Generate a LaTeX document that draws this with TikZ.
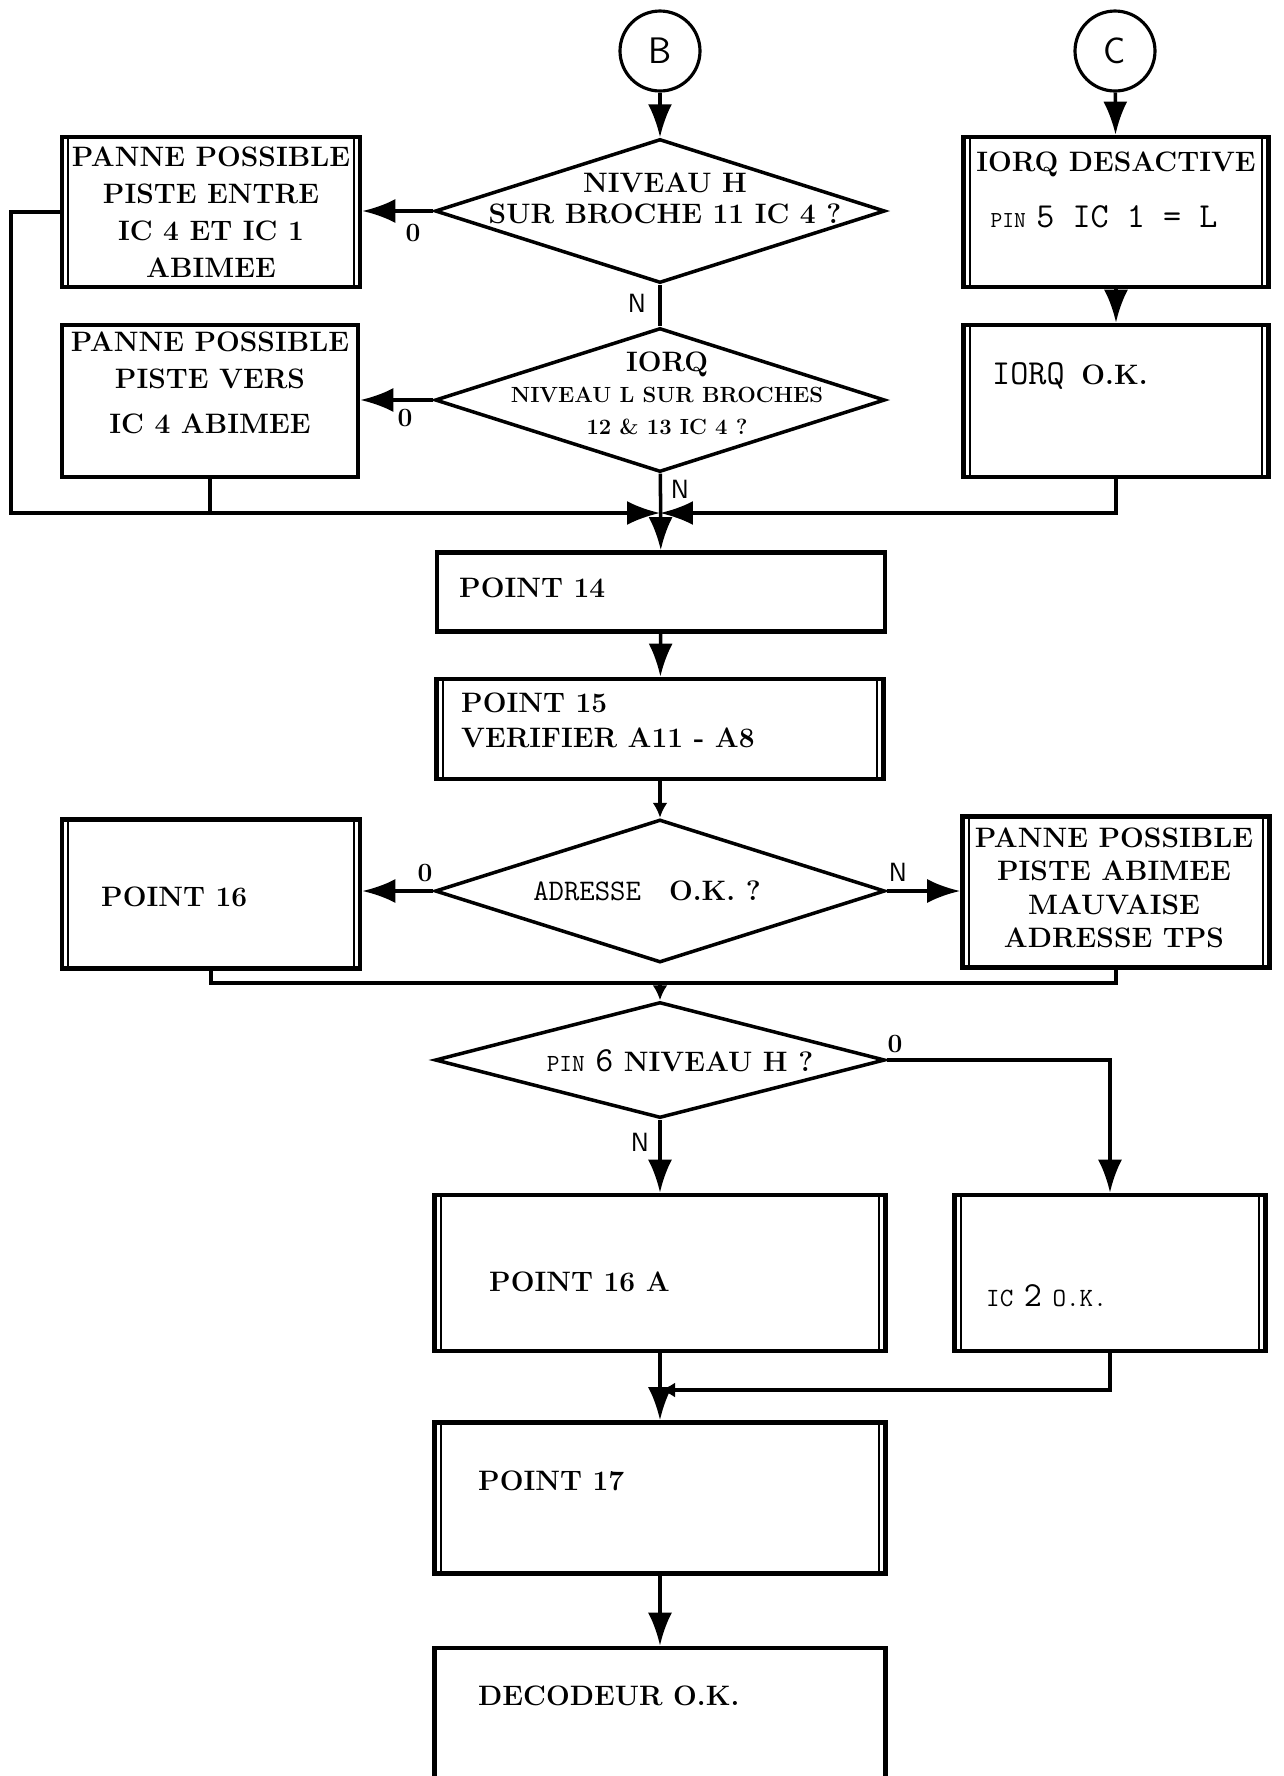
\documentclass[tikz,border=0pt]{standalone}
\usepackage{graphicx}
\usetikzlibrary{arrows.meta,shapes.geometric}

\newcommand{\mono}[2]{{\ttfamily\mdseries\fontsize{#1}{#1}\selectfont #2}}

\begin{document}
\begin{tikzpicture}[x=0.02cm,y=-0.02cm,
    font=\bfseries\fontsize{16}{21}\selectfont,
    >={Latex[length=0.66cm,width=0.48cm]},
    link/.style={line width=2pt},
    tiny tip/.style={-{Latex[length=0.3cm,width=0.3cm]}},
    box/.style={draw,line width=2.7pt,inner sep=0pt},
    twin/.style={box,path picture={
      \draw[line width=1.1pt] ([xshift=3.5pt]path picture bounding box.north west)
        -- ([xshift=3.5pt]path picture bounding box.south west);
      \draw[line width=1.1pt] ([xshift=-3.5pt]path picture bounding box.north east)
        -- ([xshift=-3.5pt]path picture bounding box.south east);}},
    decision/.style={draw,diamond,line width=2pt,inner sep=0pt,
      minimum width=9cm,minimum height=2.88cm},
    connector/.style={draw,circle,line width=1.8pt,minimum size=1.6cm,inner sep=0pt,
      font=\sffamily\mdseries\fontsize{21}{21}\selectfont},
    answer/.style={font=\bfseries\fontsize{15}{15}\selectfont},
    answer sans/.style={font=\sffamily\mdseries\fontsize{15}{15}\selectfont}]
  \useasboundingbox (0,0) rectangle (1284,1776);

  \node[connector] (b) at (660,51) {B};
  \node[connector] (c) at (1115,51) {C};

  \node[decision] (d1) at (660,211) {};
  \node[align=center,font=\bfseries\fontsize{16}{17.6}\selectfont] (d1 text) at (665,198)
    {NIVEAU H\\SUR BROCHE 11 IC 4 ?};
  \node[twin,minimum width=5.96cm,minimum height=3cm,align=center] (pannea) at (211,212)
    {PANNE POSSIBLE\\PISTE ENTRE\\IC 4 ET IC 1\\ABIMEE};
  \node[twin,minimum width=6.1cm,minimum height=3cm] (iorqa) at (1116,212) {};
  \node (iorqa text) at (1116,164) {IORQ DESACTIVE};
  \node (pin five) at (1104,217) {\mono{13}{PIN} \mono{20}{5 IC 1 = L}};

  \node[decision] (d2) at (660,400) {};
  \node[align=center,font=\bfseries\fontsize{12.5}{18}\selectfont] (d2 text) at (667,393)
    {{\fontsize{16}{18}\selectfont IORQ}\\NIVEAU L SUR BROCHES\\12 \& 13 IC 4 ?};
  \node[box,minimum width=5.92cm,minimum height=3.04cm] (panneb) at (210,401) {};
  \node[align=center] (panneb text) at (210,383)
    {PANNE POSSIBLE\\PISTE VERS\\[5pt]IC 4 ABIMEE};
  \node[twin,minimum width=6.1cm,minimum height=3.04cm] (iorqb) at (1116,401) {};
  \node[anchor=west] (iorqb text) at (986,376) {\mono{20}{IORQ}\hspace{0.6em}O.K.};

  \coordinate (m1) at (660,513);
  \coordinate (west rail) at (11,513);

  \node[box,minimum width=8.96cm,minimum height=1.58cm] (point14) at (661,592) {};
  \node[anchor=west] (point14 text) at (453,588) {POINT 14};
  \node[twin,minimum width=8.94cm,minimum height=2cm] (point15) at (660,729) {};
  \node[anchor=west,align=left,font=\bfseries\fontsize{16}{20}\selectfont] (point15 text)
    at (455,720) {POINT 15\\VERIFIER A11 - A8};

  \node[decision,minimum height=2.86cm] (d3) at (660,891) {};
  \node (d3 text) at (647,891) {\mono{17}{ADRESSE}\hspace{1em}O.K. ?};
  \node[twin,minimum width=5.96cm,minimum height=2.98cm] (point16) at (211,894) {};
  \node[anchor=west] (point16 text) at (95,897) {POINT 16};
  \node[twin,minimum width=6.14cm,minimum height=3.02cm] (panned) at (1116,892) {};
  \node[align=center,font=\bfseries\fontsize{16}{19}\selectfont] (panned text) at (1114,888)
    {PANNE POSSIBLE\\PISTE ABIMEE\\MAUVAISE\\ADRESSE TPS};

  \coordinate (m2) at (660,983);

  \node[decision,minimum height=2.32cm] (d4) at (660,1060) {};
  \node (d4 text) at (680,1061) {\mono{14}{PIN} \mono{20}{6} NIVEAU H ?};
  \node[twin,minimum width=9.02cm,minimum height=3.12cm] (point16a) at (660,1273) {};
  \node[anchor=west] (point16a text) at (483,1282) {POINT 16 A};
  \node[twin,minimum width=6.22cm,minimum height=3.12cm] (ic2) at (1110,1273) {};
  \node[anchor=west] (ic2 text) at (980,1296) {\mono{15}{IC} \mono{20}{2} \mono{15}{O.K.}};

  \coordinate (m3) at (660,1390);

  \node[twin,minimum width=9.02cm,minimum height=3.02cm] (point17) at (660,1498) {};
  \node[anchor=west] (point17 text) at (472,1481) {POINT 17};
  \node[box,minimum width=9.02cm,minimum height=3.04cm] (decodeur) at (660,1724) {};
  \node[anchor=west] (decodeur text) at (472,1696) {DECODEUR O.K.};

  \node[answer] (zero a) at (413,233) {0};
  \node[answer] (zero b) at (405,418) {0};
  \node[answer sans] (no a) at (637,303) {N};
  \node[answer sans] (no b) at (680,489) {N};
  \node[answer] (zero c) at (425,873) {0};
  \node[answer sans] (no c) at (898,872) {N};
  \node[answer] (zero d) at (895,1044) {0};
  \node[answer sans] (no d) at (640,1142) {N};

  \draw[link,->] (b) -- (d1);
  \draw[link,->] (d1.west) -- (d1.west -| pannea.east);
  \draw[link] (d1) -- (d2);
  \draw[link,->] (d2.west) -- (d2.west -| panneb.east);
  \draw[link,->] (c) -- (iorqa);
  \draw[link,->] (iorqa) -- (iorqb);
  \draw[link,->] (pannea.west) -| (west rail) -- (m1);
  \draw[link] (panneb.south) -- (panneb.south |- m1);
  \draw[link,->] (iorqb.south) |- (m1);
  \draw[link,->] (d2) -- (point14);
  \draw[link,->] (point14) -- (point15);
  \draw[link,tiny tip] (point15) -- (d3);
  \draw[link,->] (d3.west) -- (d3.west -| point16.east);
  \draw[link,->] (d3.east) -- (d3.east -| panned.west);
  \draw[link] (point16.south) |- (m2) -| (panned.south);
  \draw[link,tiny tip] (m2) -- (d4.north);
  \draw[link,->] (d4.east) -| (ic2);
  \draw[link,->] (d4) -- (point16a);
  \draw[link,->] (point16a) -- (point17);
  \draw[link,tiny tip] (ic2.south) |- (m3);
  \draw[link,->] (point17) -- (decodeur);
\end{tikzpicture}
\end{document}
